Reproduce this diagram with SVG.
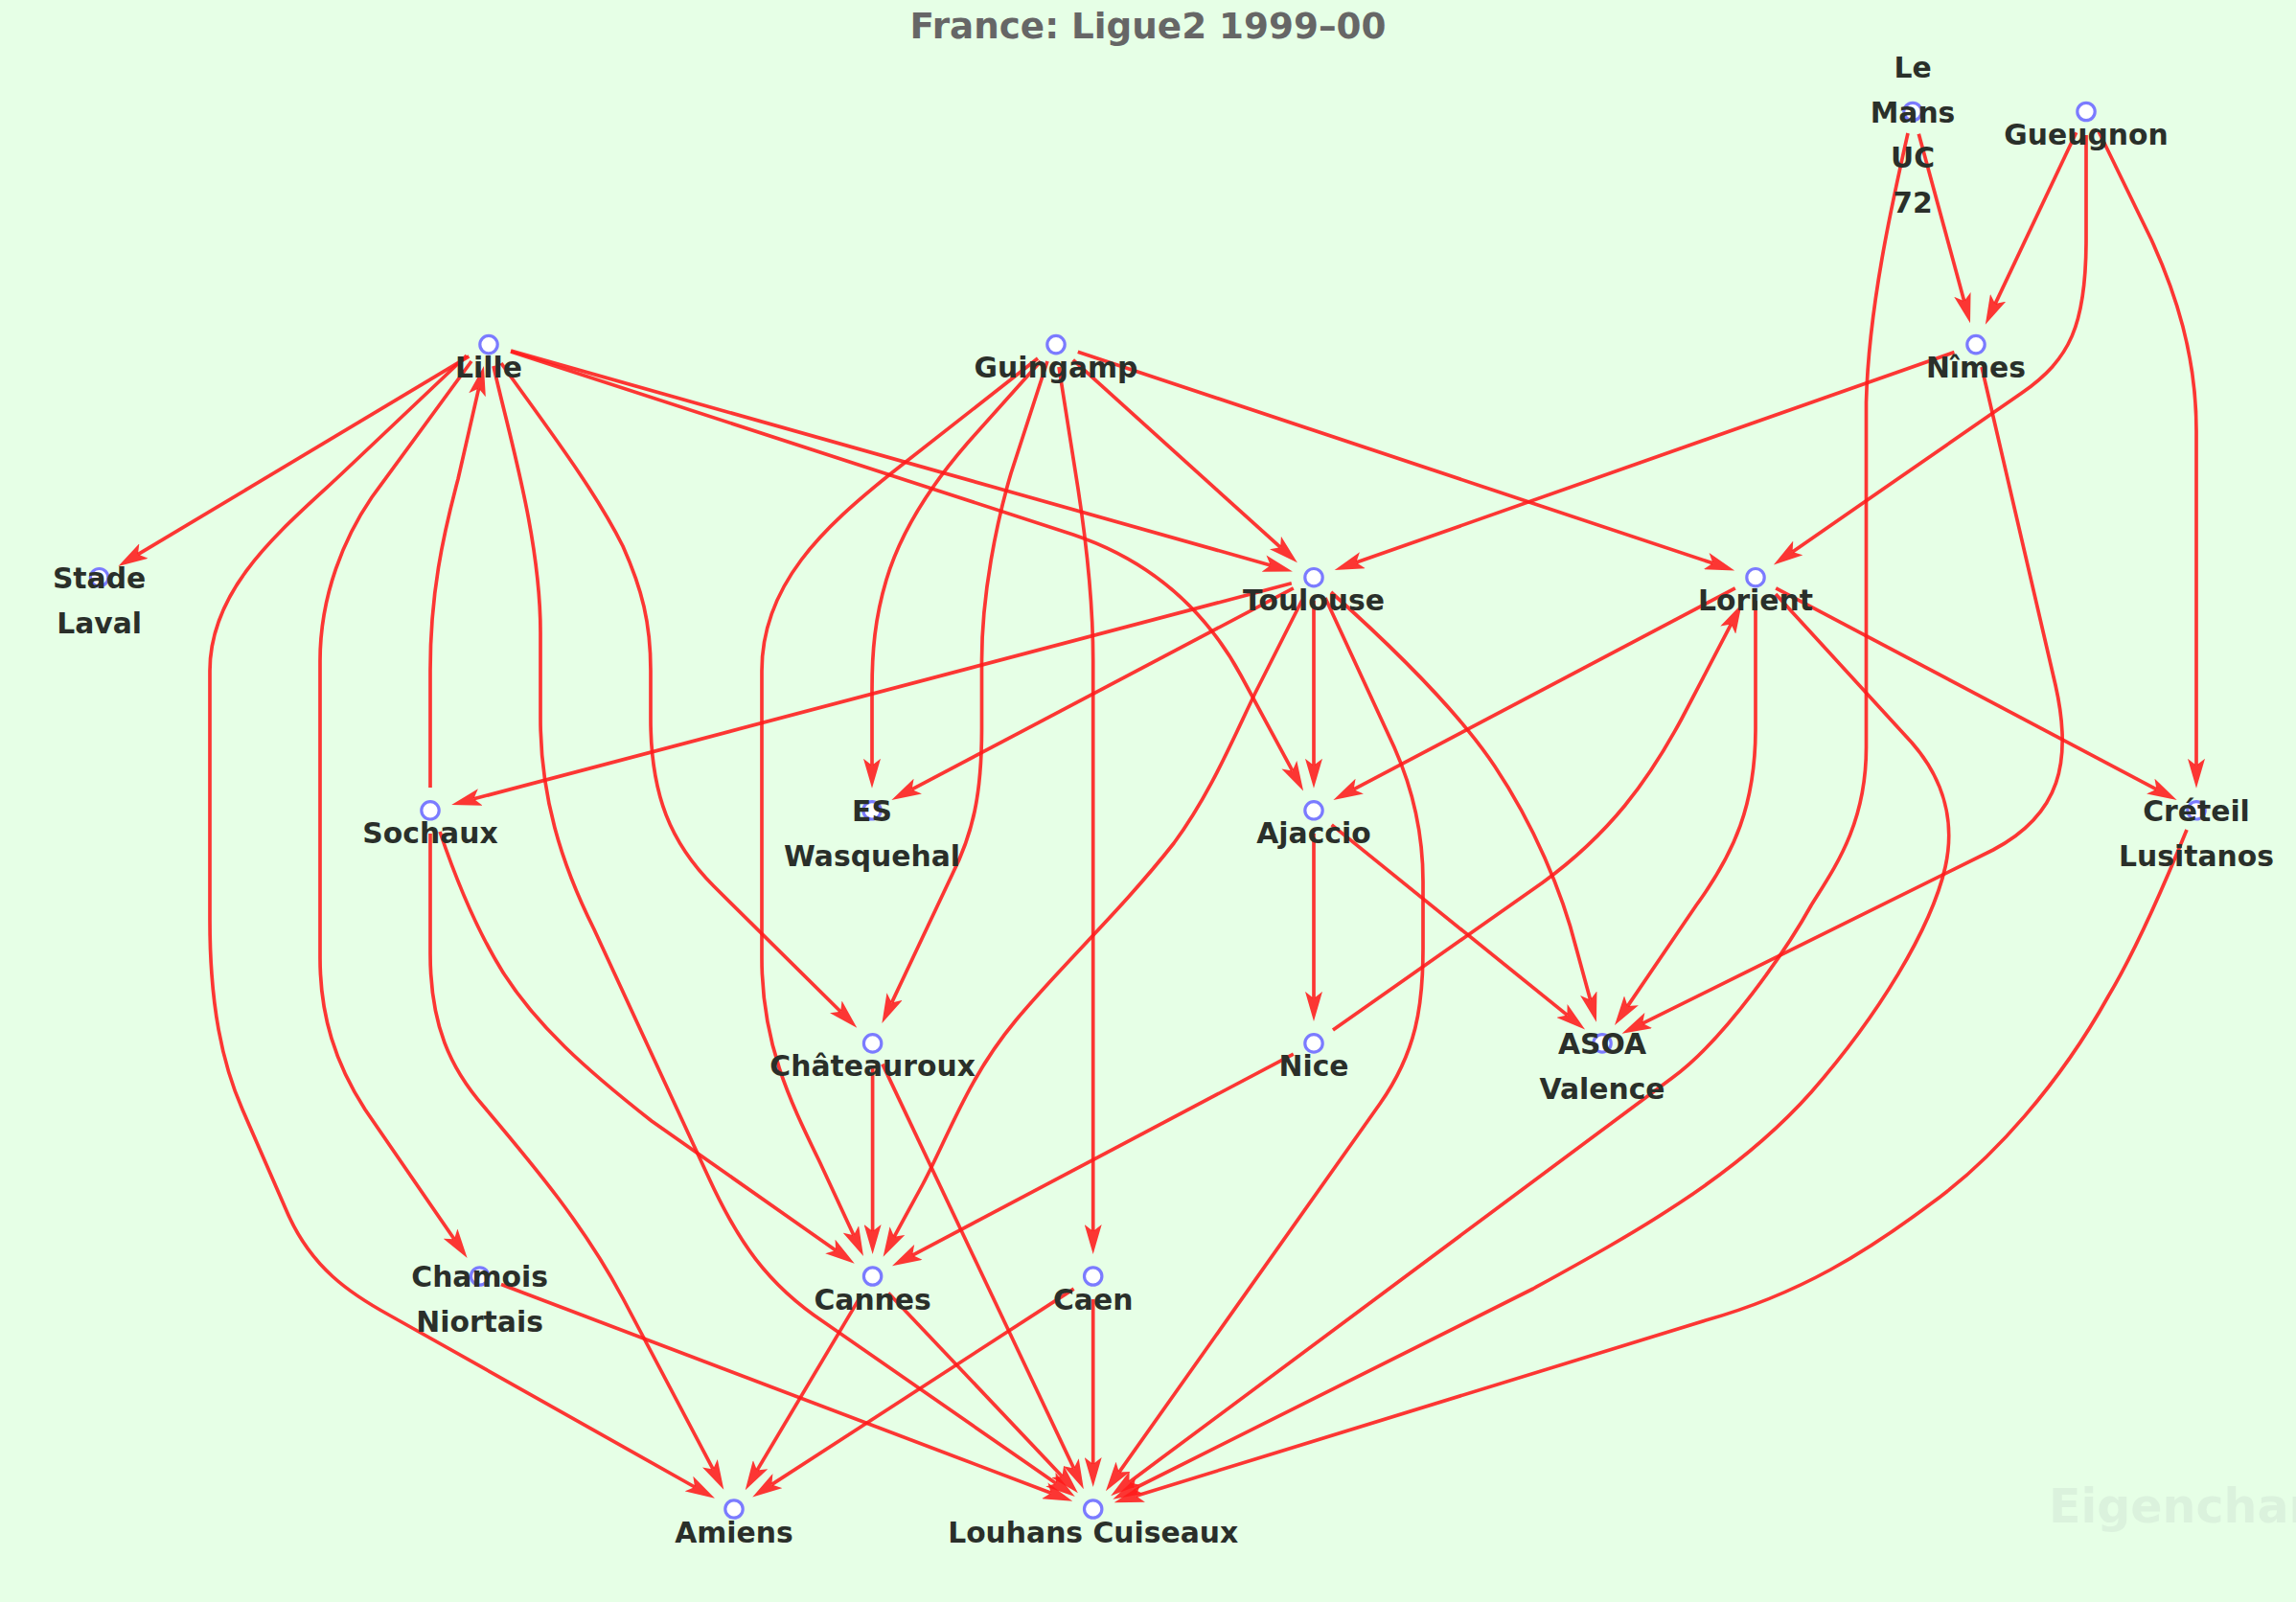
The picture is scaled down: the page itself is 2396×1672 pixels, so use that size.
<svg xmlns="http://www.w3.org/2000/svg" width="2396" height="1672" viewBox="0 0 2396 1672">
<style>
.edge{fill:none;stroke:#ff1a1a;stroke-opacity:0.88;stroke-width:3.7;marker-end:url(#ah)}
.node circle{fill:#ffffff;stroke:#7b7bff;stroke-width:3.2}
.node text,.title,.wm{font-family:"DejaVu Sans","Liberation Sans",sans-serif;font-weight:bold;text-anchor:middle}
.node text{font-size:29.8px;fill:#2a2f2a}
.title{font-size:37.3px;fill:#666666}
.wm{font-size:49px;fill:#dbf2dd;text-anchor:start}
</style>
<defs>
<marker id="ah" markerUnits="userSpaceOnUse" viewBox="0 0 31 18" markerWidth="31" markerHeight="18" refX="7" refY="9" orient="auto">
<path d="M0,0 L31,9 L0,18 L7,9 Z" fill="#ff1a1a" fill-opacity="0.88"/>
</marker>
</defs>
<rect x="0" y="0" width="2396" height="1672" fill="#e6ffe6"/>
<text class="title" x="1198" y="39.6">France: Ligue2 1999–00</text>
<text class="wm" x="2138" y="1589">Eigenchan</text>
<g id="edges">
<path class="edge" d="M489.4,371.9 L143.95,578.6"/>
<path class="edge" d="M487,371 L357,494 C300,548 219,610 219,700 L219,960 C219,1050 232,1110 253,1158 L300,1266 C325,1323 365,1350 407,1373 L725,1552"/>
<path class="edge" d="M492,377 L388,519 C360,560 334,620 334,690 L334,1000 C334,1060 350,1110 381,1158 L474,1293.3"/>
<path class="edge" d="M449,822 L449,700 C449,620 462,560 478,500 L499.6,405.4"/>
<path class="edge" d="M515,382 C530,450 564,560 564,660 L564,750 C564,830 585,900 620,970 L740,1230 C770,1295 800,1340 860,1380 L1102.1,1548.2"/>
<path class="edge" d="M523,379 C570,445 620,510 650,570 C670,615 679,650 679,700 L679,750 C679,830 700,880 745,925 L877.2,1055.8"/>
<path class="edge" d="M533,367 L1120,558 C1215,590 1265,650 1295,705 L1348.7,804.4"/>
<path class="edge" d="M533.1,366.1 L1325.8,589.95"/>
<path class="edge" d="M1083,374 L930,494 C860,550 795,610 795,700 L795,1000 C795,1090 825,1150 856,1214 L890.9,1289.3"/>
<path class="edge" d="M1086,377 L1010,462 C970,508 940,555 925,605 C913,645 910,680 910,720 L910,798.8"/>
<path class="edge" d="M1093,377 L1055,494 C1040,545 1024.5,620 1024.5,690 L1024.5,760 C1024.5,830 1015,870 994,912 L930.6,1046.4"/>
<path class="edge" d="M1105,383 L1125,510 C1135,575 1140.7,630 1140.7,690 L1140.7,1285"/>
<path class="edge" d="M1119.8,375.7 L1336.1,571.2"/>
<path class="edge" d="M1124.8,367.2 L1787.4,587.85"/>
<path class="edge" d="M2002.3,139.7 L2049.7,314.2"/>
<path class="edge" d="M1991,139 C1975,210 1950,320 1947.5,420 L1947.5,780 C1947.5,860 1915,905 1890,945 C1865,990 1800,1085 1745,1125 L1178.4,1546.9"/>
<path class="edge" d="M2166.7,138.2 L2082.1,317.1"/>
<path class="edge" d="M2177,141 L2177,250 C2177,340 2160,375 2110,410 L1870.6,575.9"/>
<path class="edge" d="M2190,137 L2245,250 C2270,305 2292,370 2292,450 L2292,798.8"/>
<path class="edge" d="M2039.4,367.6 L1415.3,587.1"/>
<path class="edge" d="M2068,383 L2145,715 C2163,795 2150,850 2080,887 L1714.1,1068.1"/>
<path class="edge" d="M1347.8,608.8 L494.4,833.8"/>
<path class="edge" d="M1349.8,613.9 L951.6,823.9"/>
<path class="edge" d="M1371,626.7 L1371,798.8"/>
<path class="edge" d="M1359,626 L1310,723 C1285,775 1262,830 1225,880 C1170,950 1110,1005 1060,1065 C1010,1125 990,1185 963,1236 L933.1,1290.8"/>
<path class="edge" d="M1383,624 L1455,780 C1475,825 1485,870 1485,920 L1485,990 C1485,1050 1478,1098 1440,1152 L1167.8,1536.6"/>
<path class="edge" d="M1389,618 C1445,668 1520,740 1560,800 C1600,860 1630,930 1645,990 L1659.6,1043.5"/>
<path class="edge" d="M1810.8,613.9 L1412.6,823.9"/>
<path class="edge" d="M1391,1075 L1610,921 C1680,870 1720,815 1755,750 L1806.5,651.4"/>
<path class="edge" d="M1832,627 L1832,760 C1832,840 1810,890 1770,945 L1698.5,1050.1"/>
<path class="edge" d="M1853,620 L1995,775 C2030,815 2040,860 2030,905 C2015,970 1960,1060 1890,1140 C1810,1230 1700,1290 1600,1345 L1182.7,1554"/>
<path class="edge" d="M1853.2,613.9 L2250.45,823.84"/>
<path class="edge" d="M1371,869.8 L1371,1041.9"/>
<path class="edge" d="M1389.7,860.9 L1635.4,1059.4"/>
<path class="edge" d="M2282,866 C2260,920 2230,990 2200,1040 C2150,1130 2080,1210 2014,1257 C1950,1305 1880,1350 1780,1378 L1185.6,1561.2"/>
<path class="edge" d="M459,868 C480,930 500,975 525,1015 C560,1070 610,1115 680,1170 L872.1,1305"/>
<path class="edge" d="M449,870 L449,995 C449,1070 470,1115 505,1155 C560,1220 610,1280 650,1355 L744.1,1533.4"/>
<path class="edge" d="M910.6,1112.9 L910.6,1285"/>
<path class="edge" d="M920.9,1110.6 L1120.6,1532.5"/>
<path class="edge" d="M1349.8,1100.1 L952.2,1310.1"/>
<path class="edge" d="M523,1340.5 L1096.8,1558.3"/>
<path class="edge" d="M898.3,1352.6 L790,1534.6"/>
<path class="edge" d="M927.1,1349.4 L1108.4,1540.9"/>
<path class="edge" d="M1120.6,1345.1 L805.4,1549.4"/>
<path class="edge" d="M1140.7,1356 L1140.7,1528"/>
</g>
<g id="n-lemans" class="node"><circle cx="1996" cy="116.5" r="9.2"/><text x="1996" y="80.5">Le</text><text x="1996" y="127.5">Mans</text><text x="1996" y="174.5">UC</text><text x="1996" y="221.5">72</text></g>
<g id="n-gueugnon" class="node"><circle cx="2177" cy="116.5" r="9.2"/><text x="2177" y="151">Gueugnon</text></g>
<g id="n-lille" class="node"><circle cx="510" cy="359.6" r="9.2"/><text x="510" y="394.1">Lille</text></g>
<g id="n-guingamp" class="node"><circle cx="1102" cy="359.6" r="9.2"/><text x="1102" y="394.1">Guingamp</text></g>
<g id="n-nimes" class="node"><circle cx="2062" cy="359.6" r="9.2"/><text x="2062" y="394.1">Nîmes</text></g>
<g id="n-stadelaval" class="node"><circle cx="103.6" cy="602.7" r="9.2"/><text x="103.6" y="613.7">Stade</text><text x="103.6" y="660.7">Laval</text></g>
<g id="n-toulouse" class="node"><circle cx="1371" cy="602.7" r="9.2"/><text x="1371" y="637.2">Toulouse</text></g>
<g id="n-lorient" class="node"><circle cx="1832" cy="602.7" r="9.2"/><text x="1832" y="637.2">Lorient</text></g>
<g id="n-sochaux" class="node"><circle cx="449" cy="845.8" r="9.2"/><text x="449" y="880.3">Sochaux</text></g>
<g id="n-eswasquehal" class="node"><circle cx="910" cy="845.8" r="9.2"/><text x="910" y="856.8">ES</text><text x="910" y="903.8">Wasquehal</text></g>
<g id="n-ajaccio" class="node"><circle cx="1371" cy="845.8" r="9.2"/><text x="1371" y="880.3">Ajaccio</text></g>
<g id="n-creteil" class="node"><circle cx="2292" cy="845.8" r="9.2"/><text x="2292" y="856.8">Créteil</text><text x="2292" y="903.8">Lusitanos</text></g>
<g id="n-chateauroux" class="node"><circle cx="910.6" cy="1088.9" r="9.2"/><text x="910.6" y="1123.4">Châteauroux</text></g>
<g id="n-nice" class="node"><circle cx="1371" cy="1088.9" r="9.2"/><text x="1371" y="1123.4">Nice</text></g>
<g id="n-asoa" class="node"><circle cx="1672" cy="1088.9" r="9.2"/><text x="1672" y="1099.9">ASOA</text><text x="1672" y="1146.9">Valence</text></g>
<g id="n-chamois" class="node"><circle cx="500.6" cy="1332" r="9.2"/><text x="500.6" y="1343">Chamois</text><text x="500.6" y="1390">Niortais</text></g>
<g id="n-cannes" class="node"><circle cx="910.6" cy="1332" r="9.2"/><text x="910.6" y="1366.5">Cannes</text></g>
<g id="n-caen" class="node"><circle cx="1140.7" cy="1332" r="9.2"/><text x="1140.7" y="1366.5">Caen</text></g>
<g id="n-amiens" class="node"><circle cx="766" cy="1575" r="9.2"/><text x="766" y="1609.5">Amiens</text></g>
<g id="n-louhans" class="node"><circle cx="1140.7" cy="1575" r="9.2"/><text x="1140.7" y="1609.5">Louhans Cuiseaux</text></g>
</svg>
